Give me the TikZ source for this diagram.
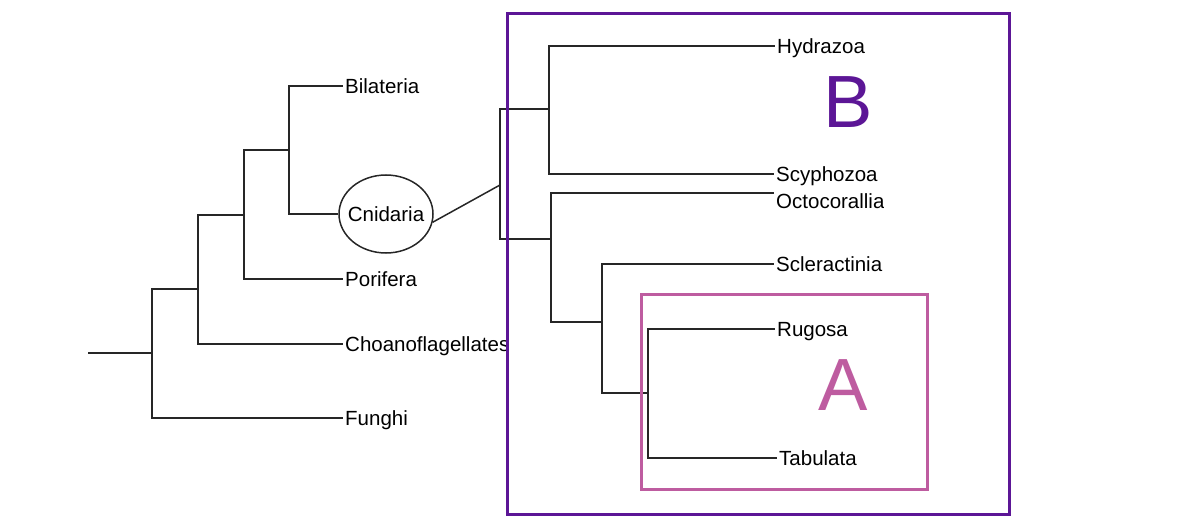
\documentclass[tikz,border=0pt]{standalone}
\usepackage{fontspec}
\setmainfont{Liberation Sans}
\usetikzlibrary{shapes.geometric}
\definecolor{cladeB}{RGB}{92,22,150}
\definecolor{cladeA}{RGB}{190,92,160}
\begin{document}
\begin{tikzpicture}[
  x=1pt,
  y=-1pt,
  font=\fontsize{20.5}{23}\selectfont,
  taxon/.style={anchor=west, inner sep=2pt, text height=14.5pt, text depth=0pt},
  branch/.style={line width=1.5pt, black!85},
  cladebox/.style={line width=3pt},
  handletter/.style={font=\fontsize{74}{74}\selectfont, inner sep=0pt}
]
  \useasboundingbox (0,0) rectangle (1200,516);

  % outer tree
  \coordinate (root) at (88,353);
  \coordinate (n1) at (152,353);
  \coordinate (n2) at (198,289);
  \coordinate (n3) at (244,215);
  \coordinate (n4) at (289,150);
  \node[taxon] (bilateria) at (343,86) {Bilateria};
  \node[ellipse, draw, line width=1.5pt, black!85, text=black,
    minimum width=94, minimum height=78, inner sep=-5pt] (cnidaria) at (386,214) {Cnidaria};
  \node[taxon] (porifera) at (343,279) {Porifera};
  \node[taxon] (choano) at (343,344) {Choanoflagellates};
  \node[taxon] (funghi) at (343,418) {Funghi};

  \draw[branch] (root) -- (n1);
  \draw[branch] (n1) |- (funghi.west);
  \draw[branch] (n1) |- (n2);
  \draw[branch] (n2) |- (choano.west);
  \draw[branch] (n2) |- (n3);
  \draw[branch] (n3) |- (porifera.west);
  \draw[branch] (n3) |- (n4);
  \draw[branch] (n4) |- (bilateria.west);
  \draw[branch] (n4) |- (cnidaria.west);

  % cnidarian tree
  \coordinate (r0) at (500,185);
  \coordinate (r1) at (549,109);
  \coordinate (r2) at (551,239);
  \coordinate (r3) at (602,322);
  \coordinate (r4) at (648,393);
  \coordinate (octotip) at (774,193);
  \node[taxon] (hydrazoa) at (775,46) {Hydrazoa};
  \node[taxon] (scyphozoa) at (774,174) {Scyphozoa};
  \begin{scope}
    \clip (770,188) rectangle (883,225);
    \node[taxon] (octo) at (774,201) {Octocorallia};
  \end{scope}
  \node[taxon] (scler) at (774,264) {Scleractinia};
  \node[taxon] (rugosa) at (775,329) {Rugosa};
  \node[taxon] (tabulata) at (777,458) {Tabulata};

  \draw[branch] (cnidaria.-10) -- (r0);
  \draw[branch] (r0) |- (r1);
  \draw[branch] (r0) |- (r2);
  \draw[branch] (r1) |- (hydrazoa.west);
  \draw[branch] (r1) |- (scyphozoa.west);
  \draw[branch] (r2) |- (octotip);
  \draw[branch] (r2) |- (r3);
  \draw[branch] (r3) |- (scler.west);
  \draw[branch] (r3) |- (r4);
  \draw[branch] (r4) |- (rugosa.west);
  \draw[branch] (r4) |- (tabulata.west);

  % clade boxes
  \draw[cladebox, cladeB] (507,14) rectangle (1009,514);
  \draw[cladebox, cladeA] (641,294) rectangle (927,489);
  \node[handletter, text=cladeB] (labelB) at (848,102) {B};
  \node[handletter, text=cladeA] (labelA) at (843,385) {A};
\end{tikzpicture}
\end{document}
